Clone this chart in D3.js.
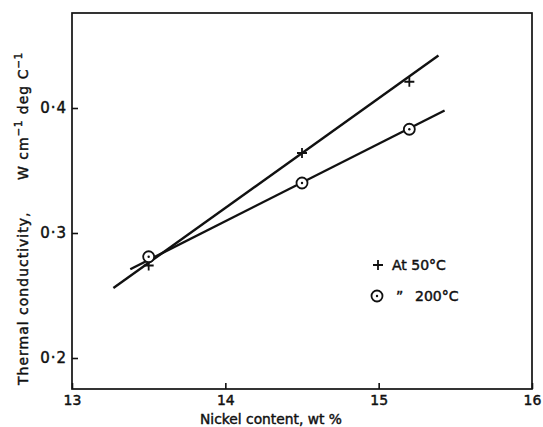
<!DOCTYPE html>
<html>
<head>
<meta charset="utf-8">
<script src="https://cdn.jsdelivr.net/npm/d3@7"></script>
<style>
  body { margin: 0; background: #fff; }
  text { font-family: "DejaVu Sans", sans-serif; fill: #111; stroke: #111; stroke-width: 0.45; }
</style>
</head>
<body>
<div class="vis-holder"></div>
<script>
// nickel content (wt %) of the measured alloys
var nickel = [13.5, 14.5, 15.2];
// thermal conductivity, W cm^-1 deg C^-1
var at50 = [0.274, 0.364, 0.421];
var at200 = [0.281, 0.340, 0.383];
// ends of the drawn straight lines [x, y]
var line50 = [[13.27, 0.256], [15.39, 0.442]];
var line200 = [[13.38, 0.271], [15.43, 0.398]];
// axis ticks
var xTicks = [13, 14, 15, 16];
var yTicks = [0.2, 0.3, 0.4];

var width = 543;
var height = 427;
var margin = { top: 13, bottom: 38, left: 72, right: 11 };

var svg = d3.select(".vis-holder")
            .append("svg")
            .attr("width", width)
            .attr("height", height);

var xScale = d3.scaleLinear()
               .domain([13, 16])
               .range([margin.left, width - margin.right]);

var yScale = d3.scaleLinear()
               .domain([0.1752, 0.476])
               .range([height - margin.bottom, margin.top]);

// ticks point inward, the box is drawn separately
var xAxis = svg.append("g")
               .attr("transform", `translate(0, ${height - margin.bottom})`)
               .call(d3.axisBottom(xScale)
                       .tickValues(xTicks)
                       .tickSizeInner(-6)
                       .tickSizeOuter(0)
                       .tickPadding(6)
                       .tickFormat(d3.format("d")));

var yAxis = svg.append("g")
               .attr("transform", `translate(${margin.left}, 0)`)
               .call(d3.axisLeft(yScale)
                       .tickValues(yTicks)
                       .tickSizeInner(-6)
                       .tickSizeOuter(0)
                       .tickPadding(5)
                       .tickFormat(function(d) { return d3.format(".1f")(d).replace(".", "·"); }));

svg.selectAll(".domain").remove();
svg.selectAll(".tick line").attr("stroke", "#111").attr("stroke-width", 1.6);
svg.selectAll(".tick text")
   .attr("font-size", 14)
   .attr("fill", "#111");
yAxis.selectAll(".tick text").attr("font-size", 15).attr("letter-spacing", 1);

// frame
svg.append("rect")
   .attr("x", xScale(13))
   .attr("y", yScale(0.476))
   .attr("width", xScale(16) - xScale(13))
   .attr("height", yScale(0.1752) - yScale(0.476))
   .attr("fill", "none")
   .attr("stroke", "#111")
   .attr("stroke-width", 1.7);

var line = d3.line()
             .x(function(d) { return xScale(d[0]); })
             .y(function(d) { return yScale(d[1]); });

svg.append("path").attr("d", line(line50))
   .attr("fill", "none").attr("stroke", "#111").attr("stroke-width", 2.4);
svg.append("path").attr("d", line(line200))
   .attr("fill", "none").attr("stroke", "#111").attr("stroke-width", 2.4);

// plus markers, 50 C
svg.append("g")
   .selectAll("path")
   .data(nickel)
   .enter()
   .append("path")
   .attr("transform", function(d, i) { return `translate(${xScale(d)}, ${yScale(at50[i])})`; })
   .attr("d", "M-5,0H5M0,-5V5")
   .attr("stroke", "#111")
   .attr("stroke-width", 1.8);

// circled dot markers, 200 C
var circ = svg.append("g")
   .selectAll("g")
   .data(nickel)
   .enter()
   .append("g")
   .attr("transform", function(d, i) { return `translate(${xScale(d)}, ${yScale(at200[i])})`; });
circ.append("circle").attr("r", 5.5).attr("fill", "#fff").attr("stroke", "#111").attr("stroke-width", 1.8);
circ.append("circle").attr("r", 1.2).attr("fill", "#111");

// legend
svg.append("path")
   .attr("transform", "translate(378, 265)")
   .attr("d", "M-5,0H5M0,-5V5")
   .attr("stroke", "#111").attr("stroke-width", 1.8);
svg.append("text").attr("x", 392).attr("y", 270).attr("font-size", 14).text("At 50°C");
svg.append("circle").attr("cx", 377).attr("cy", 296).attr("r", 5.5)
   .attr("fill", "none").attr("stroke", "#111").attr("stroke-width", 1.8);
svg.append("circle").attr("cx", 377).attr("cy", 296).attr("r", 1.2).attr("fill", "#111");
svg.append("text").attr("x", 396).attr("y", 301).attr("font-size", 14).text("\u201D");
svg.append("text").attr("x", 415).attr("y", 301).attr("font-size", 14).text("200°C");

// x-axis title
svg.append("text")
   .attr("x", 200)
   .attr("y", 424)
   .attr("font-size", 14)
   .attr("textLength", 142)
   .attr("lengthAdjust", "spacingAndGlyphs")
   .text("Nickel content, wt %");

// y-axis title, in two parts
svg.append("text")
   .attr("transform", "translate(28, 385)rotate(-90)")
   .attr("font-size", 14)
   .attr("letter-spacing", 1)
   .text("Thermal conductivity,");
svg.append("text")
   .attr("transform", "translate(28, 180)rotate(-90)")
   .attr("font-size", 14)
   .attr("letter-spacing", 1)
   .html("W cm<tspan dy='-6' font-size='10'>−1</tspan><tspan dy='6'> deg C</tspan><tspan dy='-6' font-size='10'>−1</tspan>");
</script>
</body>
</html>
